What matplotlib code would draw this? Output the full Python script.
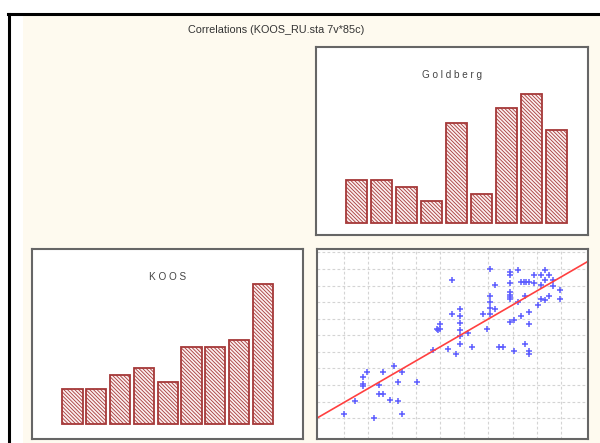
import matplotlib.pyplot as plt
import numpy as np
from matplotlib.lines import Line2D
from matplotlib.patches import Rectangle

# histogram counts (85 cases)
goldberg_counts = [6, 6, 5, 3, 14, 4, 16, 18, 13]
koos_counts = [5, 5, 7, 8, 6, 11, 11, 12, 20]

# scatter KOOS (x) vs Goldberg (y), in grid units
scatter_x = [1.00, 1.48, 1.80, 1.97, 1.80, 1.80, 2.27, 2.45, 2.48, 2.62, 2.63, 2.93,
             3.10, 3.24, 3.24, 3.42, 3.42, 4.06,
             4.69, 5.00, 4.87, 5.00, 4.93, 5.31, 5.49, 5.49, 5.67, 5.83, 5.83, 5.83,
             5.83, 5.83, 5.83, 6.14, 6.31, 6.77, 6.94, 7.07, 7.07, 7.07, 7.07, 7.07,
             7.28, 7.28, 7.45, 7.60,
             7.90, 7.90, 7.90, 7.90, 7.90, 7.90, 7.90, 7.90, 8.04, 8.04, 8.21, 8.21,
             8.36, 8.36, 8.45, 8.57, 8.66, 8.52, 8.52, 8.69, 8.69, 8.69, 8.69, 8.90,
             8.90, 9.05, 9.19, 9.19, 9.19, 9.35, 9.35, 9.35, 9.52, 9.52, 9.67, 9.67,
             9.97, 9.97]
scatter_y = [1.26, 2.01, 3.46, 3.76, 3.08, 2.96, 1.04, 2.98, 2.48, 2.48, 3.76, 2.09,
             4.14, 3.16, 2.01, 3.76, 1.26, 3.16,
             5.12, 6.69, 6.37, 6.37, 6.33, 5.16, 9.35, 7.30, 4.90, 7.60, 7.18, 6.74,
             6.33, 5.93, 5.49, 6.13, 5.27, 7.30, 6.37, 9.99, 8.34, 7.98, 7.64, 7.30,
             9.06, 7.60, 5.27, 5.32,
             9.79, 9.65, 9.15, 8.59, 8.45, 8.31, 8.19, 6.78, 6.94, 5.08, 9.92, 7.98,
             7.14, 9.19, 9.19, 9.19, 9.19, 5.49, 8.34, 7.40, 6.69, 5.08, 4.90, 9.65,
             9.15, 7.84, 8.19, 9.65, 9.06, 9.95, 9.31, 8.15, 9.65, 8.34, 9.31, 8.95,
             8.75, 8.19]

title = 'Correlations (KOOS_RU.sta 7v*85c)'

W, H = 600, 443
fig = plt.figure(figsize=(6, 4.43), dpi=100)
fig.patch.set_facecolor('white')
plt.rcParams['hatch.linewidth'] = 0.6

def fx(px):
    return px / W

def fy(py):
    return 1 - py / H

# cream background and black frame
fig.patches.append(Rectangle((fx(23), 0), 1 - fx(23), fy(14), transform=fig.transFigure,
                             facecolor='#fefaef', edgecolor='none', zorder=-5))
fig.lines.append(Line2D([fx(9), fx(9)], [0, fy(13.5)], transform=fig.transFigure,
                        color='black', lw=2.2))
fig.lines.append(Line2D([fx(8), fx(599)], [fy(13.5), fy(13.5)], transform=fig.transFigure,
                        color='black', lw=2.2))
fig.text(fx(276), fy(30), title, ha='center', va='center', fontsize=7.8,
         family='Liberation Sans', color='#333333')

def panel(x0, y0, x1, y1):
    ax = fig.add_axes([fx(x0), fy(y1), fx(x1 - x0), (y1 - y0) / H])
    ax.set_xticks([])
    ax.set_yticks([])
    for s in ax.spines.values():
        s.set_color('#666666')
        s.set_linewidth(1.5)
    return ax

def hist_panel(ax, counts, label, xlim, ylim, width):
    idx = np.arange(len(counts))
    ax.bar(idx, counts, width=width, facecolor='#fbeeee', edgecolor='#a53838',
           hatch='\\' * 9, linewidth=1.3)
    ax.set_xlim(*xlim)
    ax.set_ylim(*ylim)
    ax.text(0.5, 0.852, label, transform=ax.transAxes, ha='center', va='center',
            fontsize=7.2, family='Liberation Sans', color='#444444')

ax_g = panel(316, 47, 588, 235)
hist_panel(ax_g, goldberg_counts, 'G o l d b e r g', (-1.61, 9.27), (-1.72, 24.57), 0.84)

ax_k = panel(32, 249, 303, 439)
hist_panel(ax_k, koos_counts, 'K O O S', (-1.70, 9.68), (-2.14, 25.0), 0.85)

ax_s = panel(317, 249, 588, 439)
ax_s.set_xlim(-0.1, 11.12)
ax_s.set_ylim(-0.25, 11.2)
for v in range(1, 11):
    ax_s.axvline(v, color='#d4d4d4', lw=0.8, ls=(0, (2.5, 2)), zorder=0)
for v in range(1, 12):
    ax_s.axhline(v, color='#d4d4d4', lw=0.8, ls=(0, (2.5, 2)), zorder=0)
ax_s.plot(scatter_x, scatter_y, '+', color='#5c5cff', ms=4, mew=1.1)
k, b = np.polyfit(scatter_x, scatter_y, 1)
xl = np.array([-0.1, 11.12])
ax_s.plot(xl, k * xl + b, color='#ff4040', lw=1.2)

fig.savefig('out.png', dpi=100)
